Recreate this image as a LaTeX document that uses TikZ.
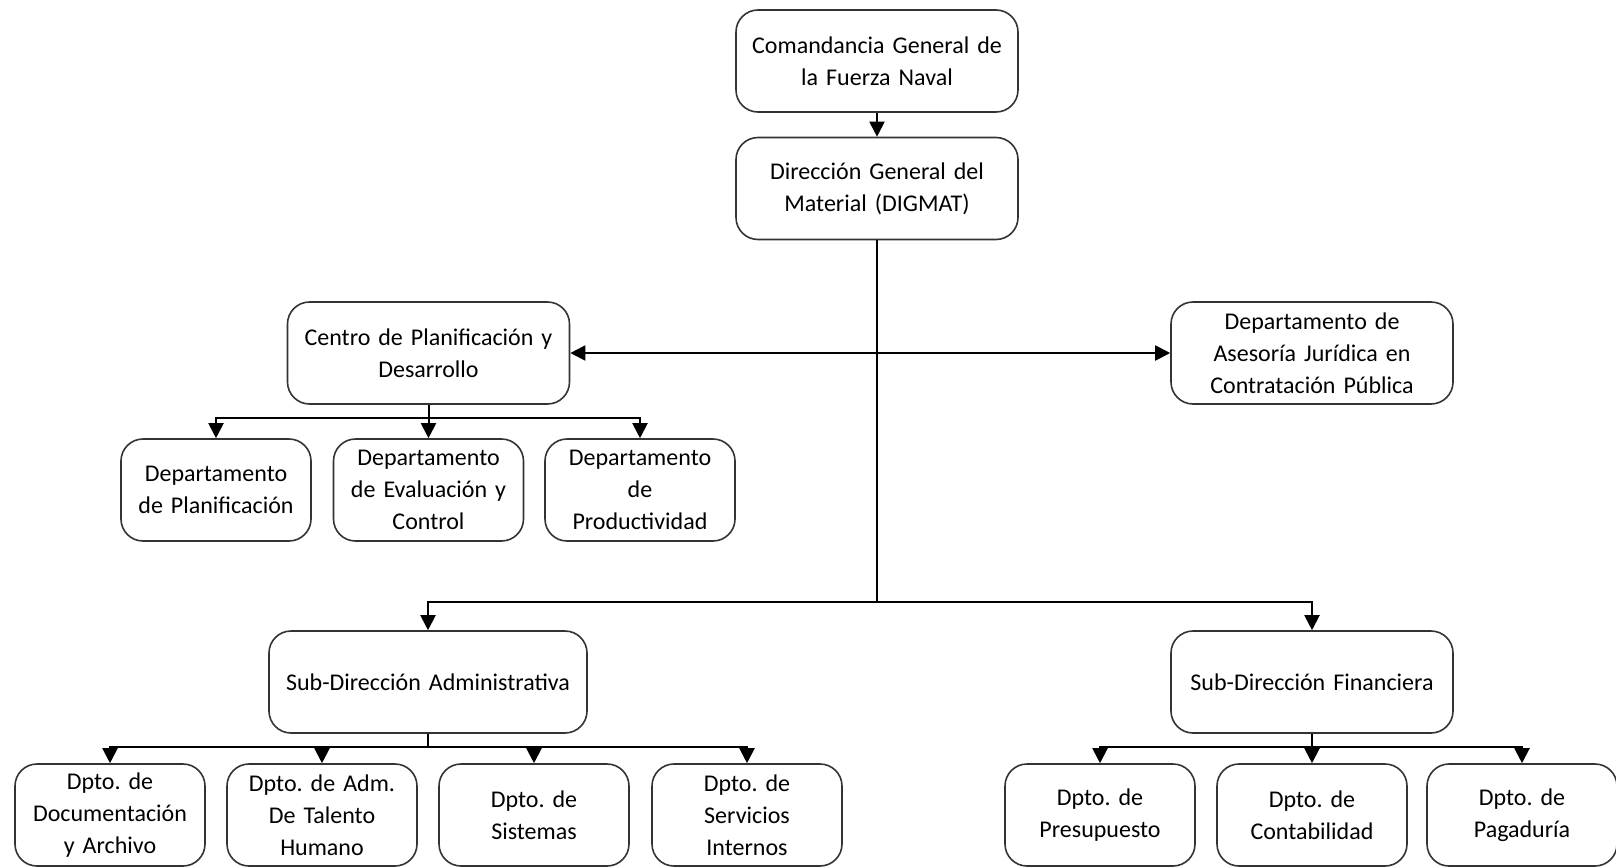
\documentclass[tikz,border=0pt]{standalone}
\usepackage{fontspec}
\setmainfont{Carlito}
\frenchspacing
\usetikzlibrary{arrows.meta}
\begin{document}
\begin{tikzpicture}[x=0.5pt,y=-0.5pt,
  box/.style={draw=black!80,line width=0.8pt,rounded corners=11pt,align=center,
    inner sep=2pt,font=\fontsize{12}{16}\selectfont,text=black},
  bigbox/.style={box,minimum width=141pt,minimum height=51pt,text width=134pt},
  smallbox/.style={box,minimum width=95pt,minimum height=51pt,text width=91pt},
  conn/.style={line width=1pt,black},
  arr/.style={conn,-{Triangle[length=7.5pt,width=7.5pt]}},
  darr/.style={conn,{Triangle[length=7.5pt,width=7.5pt]}-{Triangle[length=7.5pt,width=7.5pt]}}]
\useasboundingbox (0,0) rectangle (1616,867);
\node[bigbox] (coma) at (877,61) {Comandancia General de\\la Fuerza Naval};
\node[bigbox] (dir) at (877,188.5) {Dirección General del\\Material (DIGMAT)};
\node[bigbox] (centro) at (428.5,353) {Centro de Planificación y\\Desarrollo};
\node[bigbox] (ases) at (1312,353) {Departamento de\\Asesoría Jurídica en\\Contratación Pública};
\node[smallbox] (dplan) at (216,490) {Departamento\\de Planificación};
\node[smallbox] (deval) at (428.5,490) {Departamento\\de Evaluación y\\Control};
\node[smallbox] (dprod) at (640,490) {Departamento\\de\\Productividad};
\node[bigbox,minimum width=159pt,text width=152pt] (subadm) at (428,682) {Sub-Dirección Administrativa};
\node[bigbox] (subfin) at (1312,682) {Sub-Dirección Financiera};
\node[smallbox] (a1) at (110,815) {Dpto. de\\Documentación\\y Archivo};
\node[smallbox] (a2) at (322,815) {Dpto. de Adm.\\De Talento\\Humano};
\node[smallbox] (a3) at (534,815) {Dpto. de\\Sistemas};
\node[smallbox] (a4) at (747,815) {Dpto. de\\Servicios\\Internos};
\node[smallbox] (f1) at (1100,815) {Dpto. de\\Presupuesto};
\node[smallbox] (f2) at (1312,815) {Dpto. de\\Contabilidad};
\node[smallbox] (f3) at (1522,815) {Dpto. de\\Pagaduría};
% connectors
\draw[arr] (coma.south) -- (dir.north);
\coordinate (jmain) at (877,602);
\draw[conn] (dir.south) -- (jmain);
\draw[arr] (jmain) -| (subadm.north);
\draw[arr] (jmain) -| (subfin.north);
\draw[darr] (centro.east) -- (ases.west);
\coordinate (jc) at (428.5,418);
\draw[conn] (centro.south) -- (jc);
\draw[arr] (jc) -| (dplan.north);
\draw[arr] (jc) -- (deval.north);
\draw[arr] (jc) -| (dprod.north);
\coordinate (ja) at (428,747);
\draw[conn] (subadm.south) -- (ja);
\draw[arr] (ja) -| (a1.north);
\draw[arr] (ja) -| (a2.north);
\draw[arr] (ja) -| (a3.north);
\draw[arr] (ja) -| (a4.north);
\coordinate (jf) at (1312,747);
\draw[conn] (subfin.south) -- (jf);
\draw[arr] (jf) -| (f1.north);
\draw[arr] (jf) -- (f2.north);
\draw[arr] (jf) -| (f3.north);
\end{tikzpicture}
\end{document}
